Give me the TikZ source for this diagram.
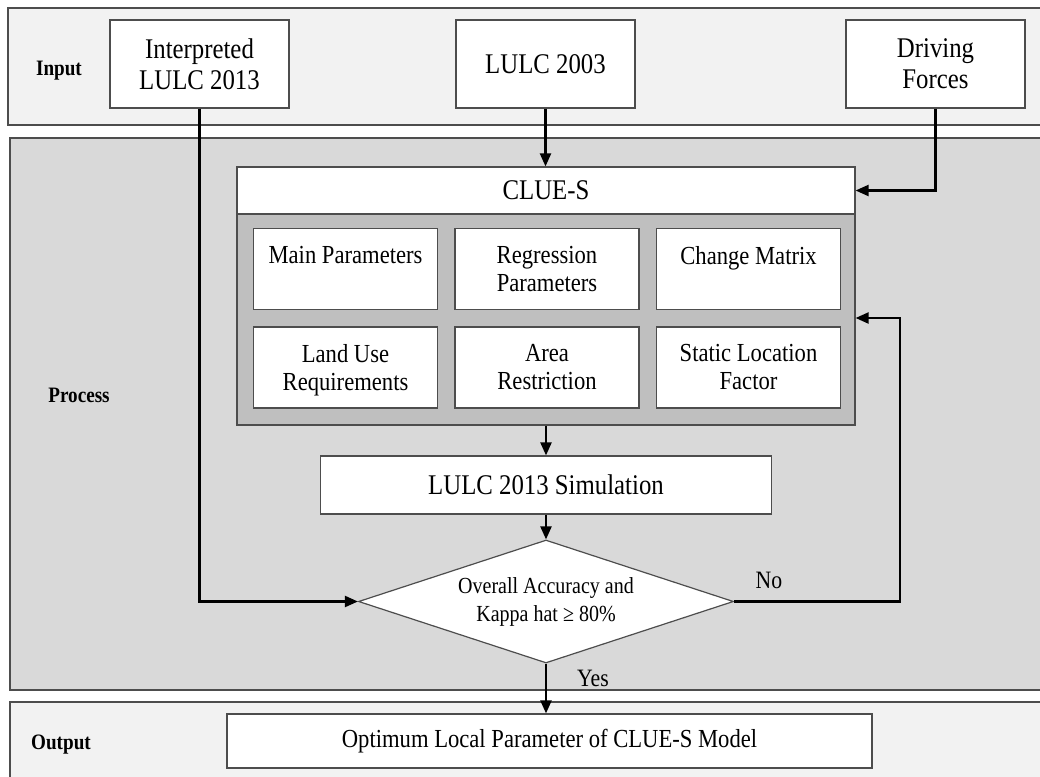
\documentclass[tikz,border=0pt]{standalone}
\usepackage{fontspec}
\setmainfont{Liberation Serif}[FakeStretch=0.87]
\usetikzlibrary{shapes.geometric,arrows.meta}
\definecolor{bandlight}{HTML}{F2F2F2}
\definecolor{bandmid}{HTML}{D9D9D9}
\definecolor{panelgrey}{HTML}{BFBFBF}
\definecolor{edgegrey}{HTML}{4D4D4D}
\begin{document}
\begin{tikzpicture}[x=1pt,y=-1pt,
  band/.style={draw=edgegrey,line width=1.2pt},
  box/.style={draw=edgegrey,line width=1.2pt,fill=white,inner sep=0pt,align=center,
    font=\fontsize{28.5}{31}\selectfont},
  cell/.style={draw=edgegrey,line width=1.2pt,fill=white,minimum width=184pt,
    minimum height=81pt,inner sep=0pt},
  celltxt/.style={anchor=north,inner sep=0pt,align=center,font=\fontsize{26}{28}\selectfont},
  tag/.style={font=\bfseries\fontsize{22}{24}\selectfont},
  lbl/.style={inner sep=0pt,font=\fontsize{25}{28}\selectfont},
  flow/.style={line width=2.2pt,-{Triangle[length=13pt,width=11pt]}},
]
\clip (0,0) rectangle (1040,776);
\fill[white] (0,0) rectangle (1040,776);

% stage bands
\draw[band,fill=bandlight] (8,8) rectangle (1050,125);
\draw[band,fill=bandmid] (10,138) rectangle (1050,690);
\draw[band,fill=bandlight] (10,702) rectangle (1050,790);

\node[tag] (tin) at (59,71) {Input};
\node[tag] (tproc) at (79,395) {Process};
\node[tag] (tout) at (61,745) {Output};

% inputs
\node[box,minimum width=179pt,minimum height=88pt] (interp) at (199.5,64) {Interpreted\\LULC 2013};
\node[box,minimum width=179pt,minimum height=88pt] (lulc) at (545.5,64) {LULC 2003};
\node[box,minimum width=179pt,minimum height=88pt] (drive) at (935.5,64) {Driving\\Forces};

% CLUE-S model block
\node[draw=edgegrey,line width=1.2pt,fill=panelgrey,minimum width=618pt,minimum height=211pt,
  inner sep=0pt] (panel) at (546,319.5) {};
\node[box,minimum width=618pt,minimum height=47pt] (clue) at (546,190.5) {CLUE-S};

\node[cell] (c11) at (345.5,269) {};
\node[cell] (c12) at (547,269) {};
\node[cell] (c13) at (748.5,269) {};
\node[cell] (c21) at (345.5,367.5) {};
\node[cell] (c22) at (547,367.5) {};
\node[cell] (c23) at (748.5,367.5) {};
\node[celltxt] at ([yshift=-18pt]c11.north) {Main Parameters};
\node[celltxt] at ([yshift=-18pt]c12.north) {Regression\\Parameters};
\node[celltxt] at ([yshift=-18pt]c13.north) {Change Matrix};
\node[celltxt] at ([yshift=-18pt]c21.north) {Land Use\\Requirements};
\node[celltxt] at ([yshift=-18pt]c22.north) {Area\\Restriction};
\node[celltxt] at ([yshift=-18pt]c23.north) {Static Location\\Factor};

% simulation, check and result
\node[box,minimum width=451pt,minimum height=58pt] (sim) at (546,485) {LULC 2013 Simulation};
\node[draw=edgegrey,line width=1.2pt,fill=white,shape=diamond,aspect=3,inner sep=0pt,
  minimum width=375pt,minimum height=123pt,align=center,font=\fontsize{23}{28}\selectfont]
  (dec) at (546,601.5) {Overall Accuracy and\\Kappa hat ≥ 80\%};
\node[box,minimum width=645pt,minimum height=54pt,font=\fontsize{26}{28}\selectfont]
  (out) at (549.5,741) {Optimum Local Parameter of CLUE-S Model};

% connectors
\coordinate (loop) at (900,318);
\draw[flow] (lulc.south) -- (clue.north -| lulc.south);
\draw[flow] (drive.south) |- (clue.east);
\draw[flow] (panel.south) -- (sim.north);
\draw[flow] (sim.south) -- (dec.north);
\draw[flow] (interp.south) |- (dec.west);
\draw[flow] (dec.east) -- node[lbl,pos=0.21,above=12pt]{No} (dec.east -| loop)
  -- (loop) -- (panel.east |- loop);
\draw[flow] (dec.south) -- node[lbl,pos=0.3,right=30pt]{Yes} (dec.south |- out.north);
\end{tikzpicture}
\end{document}
